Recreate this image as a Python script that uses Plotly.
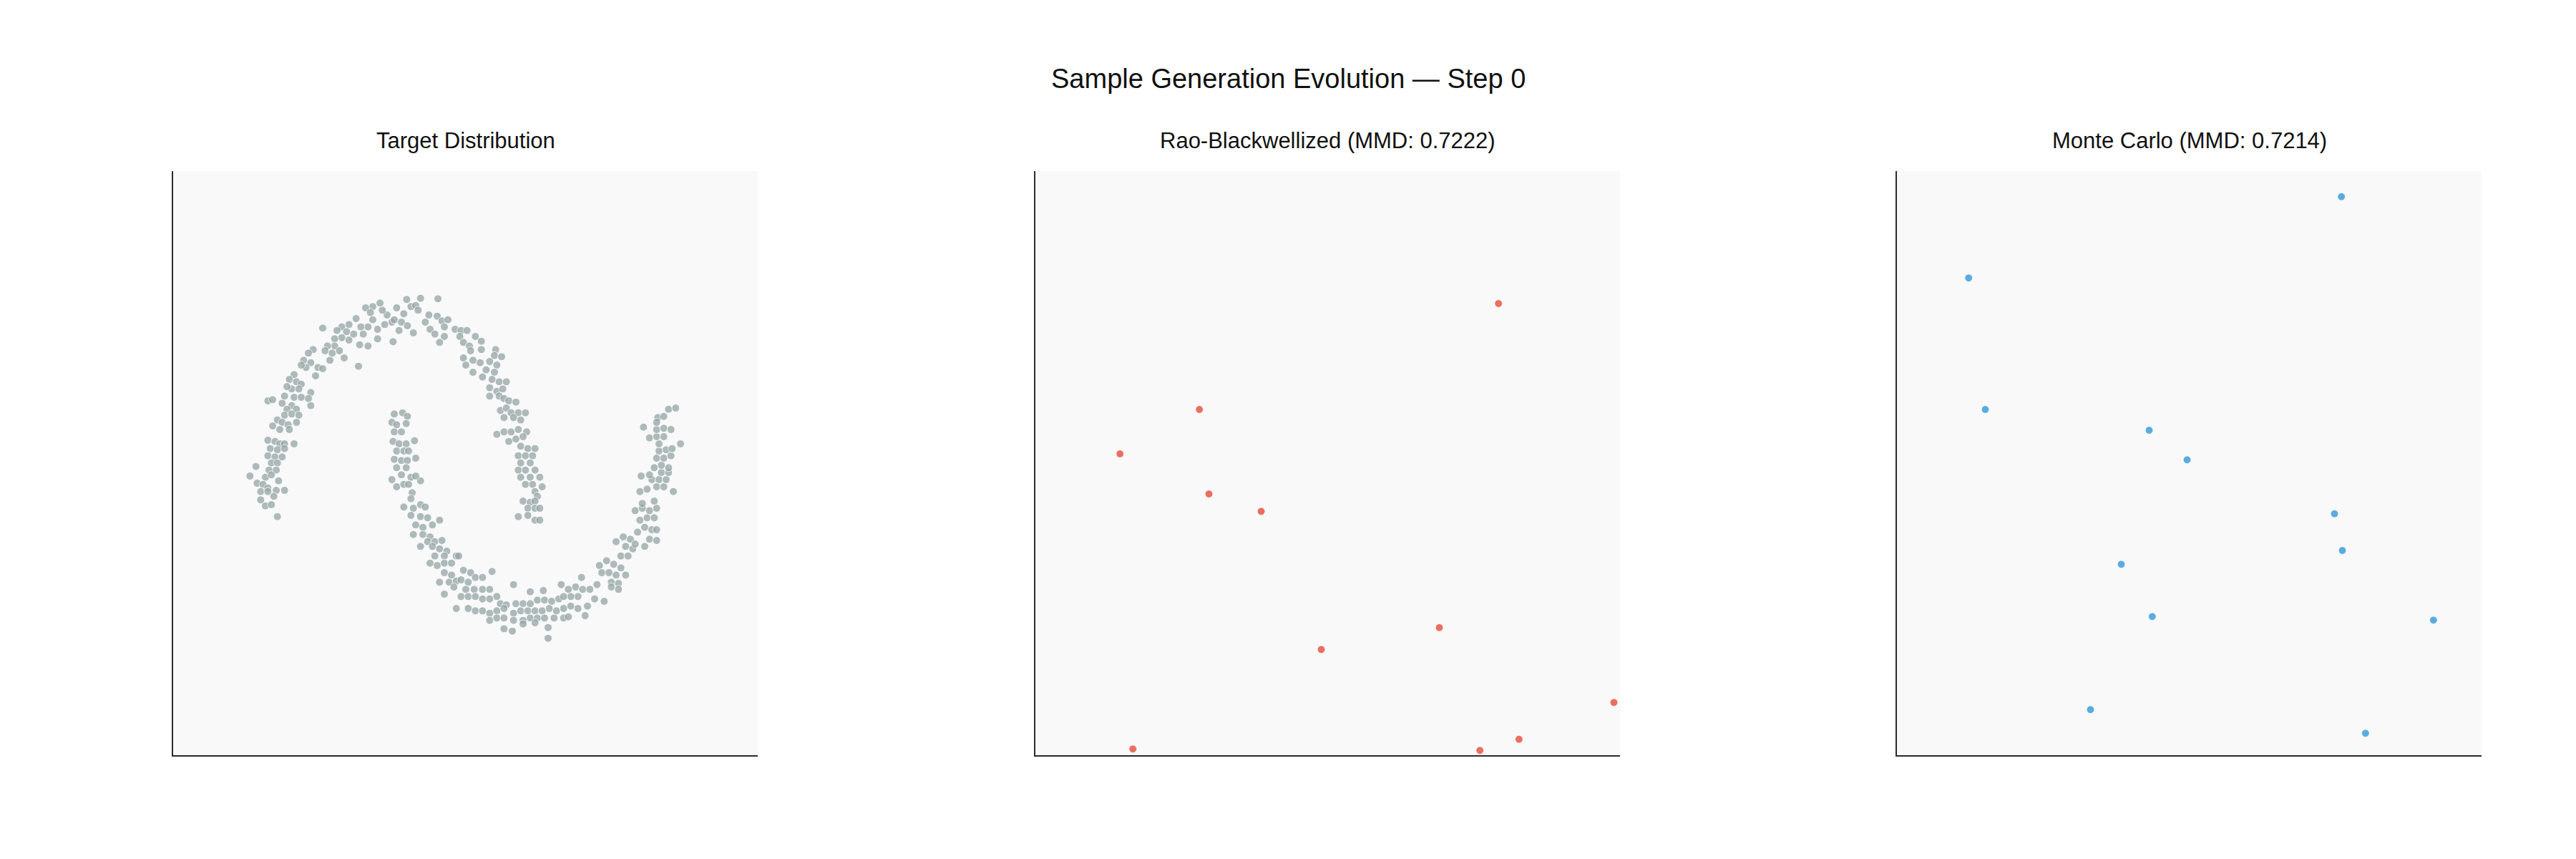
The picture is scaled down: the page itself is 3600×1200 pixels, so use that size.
import plotly.graph_objects as go

# ---------------- data ----------------
MAIN_TITLE = "Sample Generation Evolution — Step 0"
PANEL_TITLES = ["Target Distribution", "Rao-Blackwellized (MMD: 0.7222)", "Monte Carlo (MMD: 0.7214)"]

UPPER_MOON_X = [-117, -190, -248, -260, -290, -230, -210, -200, -270, -245,
                -220, -280, -310, -330, -350, -360, -390, -420, -400, -390,
                -410, -370, -340, -300, -305, -370, -445, -410, -155, -120,
                -100, -90, -150, -170, -130, -90, -110, -75, -45, -460,
                -490, -520, -540, -500, -520, -550, -490, -470, -440, -430,
                -550, -580, -590, -560, -530, -510, -570, -600, -450, -640,
                -660, -680, -650, -620, -630, -600, -670, -690, -720, -740,
                -710, -690, -730, -700, -750, -760, -720, -690, -650, -660,
                -650, -830, -810, -770, -730, -750, -710, -760, -730, -700,
                -790, -770, -745, -810, -710, -780, -740, -830, -800, -780,
                -760, -720, -820, -790, -760, -830, -800, -770, -815, -790,
                -880, -825, -795, -905, -840, -815, -785, -875, -850, -830,
                -860, -830, -795, -760, -805, -860, -840, -815, -790,
                -20, 5, -25, -10, 15, 40, 65, 20, 65, -10,
                30, 60, 0, 30, 125, 120, 150, 100, 130, 85,
                120, 70, 110, 140, 170, 100, 130, 155, 100, 140,
                160, 180, 210, 145, 170, 190, 220, 250, 160, 200,
                230, 130, 160, 190, 220, 255, 180, 210, 240, 230,
                260, 290, 220, 250, 280, 230, 270, 220, 250, 290,
                230, 270, 310, 250, 280, 320, 290, 300, 240, 270,
                290, 260, 290, 310, 220, 260, 290, 310]
UPPER_MOON_Y = [689, 691, 686, 626, 651, 656, 661, 641, 591, 576,
                546, 556, 591, 621, 641, 671, 656, 651, 631, 601,
                571, 561, 581, 601, 509, 521, 496, 491, 621, 616,
                596, 571, 561, 591, 541, 531, 506, 601, 561, 606,
                581, 571, 556, 551, 526, 521, 516, 541, 571, 541,
                491, 491, 471, 461, 471, 441, 431, 566, 406, 476,
                461, 431, 421, 401, 366, 396, 401, 411, 371, 351,
                341, 331, 311, 311, 321, 281, 276, 276, 296, 271,
                241, 261, 266, 251, 241, 226, 226, 201, 206, 201,
                181, 171, 161, 156, 171, 141, 141, 96, 91, 81,
                81, 81, 61, 56, 61, 31, 26, 26, 1, 1,
                -14, -29, -29, -54, -59, -49, -74, -84, -89, -104,
                -119, -119, -114, -114, -139, -154, -179, -174, -224,
                556, 556, 531, 506, 491, 531, 511, 471, 476, 441,
                431, 421, 411, 381, 476, 451, 446, 426, 411, 391,
                381, 361, 351, 341, 341, 316, 301, 311, 281, 281,
                271, 261, 256, 221, 231, 211, 211, 211, 191, 191,
                181, 121, 131, 131, 141, 131, 91, 101, 111, 71,
                61, 61, 31, 31, 31, 1, 1, -29, -29, -29,
                -59, -59, -59, -89, -89, -99, -119, -139, -159, -164,
                -159, -189, -189, -189, -224, -219, -239, -239]

LOWER_MOON_X = [-300, -265, -245, -310, -290, -250, -300, -270, -305, -280,
                -250, -215, -290, -260, -240, -300, -270, -245, -210, -290,
                -250, -310, -270, -230, -190, -290, -260, -240, -210, -225,
                -230, -260, -220, -190, -170, -230, -190, -160, -110, -210,
                -180, -140, -220, -180, -150, -160, -130, -100, -190, -140,
                -110, -80, -130, -90, -40, -150, -120, -90, -60, -90,
                -60, -110, -70, -40, -90, -50, -40,
                -30, -10, 20, -20, 10, 40, 70, 110, 0, 35,
                70, 100, 130, -20, 10, 40, 70, 100, 145, 170,
                200, 210, 240, 270, 270, 325, 300, 330, 360, 390,
                400, 430, 460, 490, 485, 520, 550, 540, 580, 510,
                470, 440, 410, 10, 40, 70, 100, 130, 160, 200,
                230, 260, 290, 320, 350, 380, 410, 440, 470, 100,
                130, 160, 200, 240, 270, 300, 330, 370, 410, 160,
                195, 240, 290, 345, 345, 430, 500,
                560, 590, 620, 650, 570, 600, 630, 670, 610, 640,
                610, 640, 630, 660, 690, 670, 700, 650, 680, 710,
                720, 750, 780, 800, 770, 800, 750, 730, 760, 790,
                710, 740, 770, 800, 740, 790, 730, 760, 800, 830,
                870, 780, 810, 840, 735, 770, 820, 850, 790, 820,
                850, 800, 830, 860, 810, 840, 865, 810, 770, 800,
                830, 900, 745, 800, 830, 860, 805, 830, 850, 880,
                800]
LOWER_MOON_Y = [206, 211, 196, 171, 161, 166, 131, 131, 91, 81,
                81, 94, 51, 51, 51, 16, 11, 11, 21, -19,
                -19, -69, -49, -59, -74, -99, -89, -89, -54, -124,
                -149, -184, -189, -174, -184, -219, -224, -229, -239, -259,
                -269, -259, -299, -299, -309, -329, -329, -324, -349, -349,
                -359, -369, -389, -389, -389, -419, -429, -419, -419, -459,
                -469, -499, -499, -494, -549, -519, -609,
                -389, -449, -459, -489, -499, -479, -479, -454, -529, -529,
                -529, -529, -559, -559, -559, -559, -569, -569, -589, -594,
                -509, -589, -589, -539, -589, -534, -574, -574, -579, -569,
                -509, -529, -519, -529, -479, -529, -509, -569, -579, -599,
                -559, -559, -559, -609, -619, -619, -629, -619, -609, -629,
                -619, -619, -619, -619, -609, -619, -609, -599, -609, -659,
                -649, -649, -659, -659, -649, -649, -649, -649, -649, -694,
                -704, -674, -669, -689, -734, -644, -639,
                -429, -409, -424, -439, -459, -459, -469, -469, -499, -504,
                -519, -529, -329, -309, -319, -349, -359, -389, -389, -339,
                -289, -269, -279, -279, -319, -324, -349, -239, -229, -229,
                -199, -189, -199, -189, -169, -159, -119, -109, -99, -99,
                -119, -69, -69, -69, -54, -49, -39, -39, -19, -9,
                -19, 21, 21, 31, 51, 56, 61, 81, 106, 111,
                111, 81, 151, 141, 146, 141, 191, 196, 226, 231,
                171]

RB_X = [716, -538, -871, -498, -279, 468, -27, 1200, 802, -817, 638]
RB_Y = [669, 225, 39, -129, -202, -689, -781, -1003, -1157, -1198, -1204]

MC_X = [638, -925, -855, -168, -9, 609, 642, -285, -155, 1024, -414, 739]
MC_Y = [1117, 776, 225, 138, 14, -212, -366, -424, -643, -658, -1033, -1132]

# ---------------- figure ----------------
W, H = 3600, 1200
OFF = 8  # page body margin offset
FONT = "Liberation Sans, Arial, Helvetica, sans-serif"
X_DOMAINS = [((242 - OFF) / W, (1059 - OFF) / W),
             ((1447 - OFF) / W, (2264 - OFF) / W),
             ((2651 - OFF) / W, (3468 - OFF) / W)]
Y_DOMAIN = (1 - (1055 - OFF) / H, 1 - (239 - OFF) / H)
X_RANGES = [(-1227, 1224), (-1225.5, 1225.5), (-1225.5, 1225.5)]
Y_RANGE = (-1224, 1224)

fig = go.Figure()

fig.add_trace(go.Scatter(
    x=UPPER_MOON_X + LOWER_MOON_X, y=UPPER_MOON_Y + LOWER_MOON_Y,
    mode="markers", xaxis="x", yaxis="y", showlegend=False,
    marker=dict(size=11, color="#95a5a6", opacity=0.75,
                line=dict(color="white", width=1))))

fig.add_trace(go.Scatter(
    x=RB_X, y=RB_Y, mode="markers", xaxis="x2", yaxis="y2", showlegend=False,
    marker=dict(size=10.5, color="#e74c3c", opacity=0.8,
                line=dict(color="white", width=0.6))))

fig.add_trace(go.Scatter(
    x=MC_X, y=MC_Y, mode="markers", xaxis="x3", yaxis="y3", showlegend=False,
    marker=dict(size=10.5, color="#3498db", opacity=0.8,
                line=dict(color="white", width=0.6))))

axis_common = dict(showgrid=False, zeroline=False, showticklabels=False,
                   ticks="", showline=True, linecolor="#2b2b2b", linewidth=2,
                   mirror=False, fixedrange=True)

layout = dict(
    width=W, height=H,
    margin=dict(l=0, r=0, t=0, b=0),
    paper_bgcolor="white",
    plot_bgcolor="#f9f9f9",
    font=dict(family=FONT, color="#111111"),
    showlegend=False,
)
for i in range(3):
    sx = "" if i == 0 else str(i + 1)
    layout["xaxis" + sx] = dict(axis_common, domain=list(X_DOMAINS[i]),
                                range=list(X_RANGES[i]),
                                anchor="y" + sx)
    layout["yaxis" + sx] = dict(axis_common, domain=list(Y_DOMAIN),
                                range=list(Y_RANGE),
                                anchor="x" + sx)

annotations = [dict(text=MAIN_TITLE, x=0.5 - OFF / W, y=1 - (110 - OFF) / H,
                    xref="paper", yref="paper",
                    xanchor="center", yanchor="middle", showarrow=False,
                    font=dict(family=FONT, size=38, color="#111111"))]
for i, t in enumerate(PANEL_TITLES):
    annotations.append(dict(text=t, x=(X_DOMAINS[i][0] + X_DOMAINS[i][1]) / 2,
                            y=1 - (197 - OFF) / H, xref="paper", yref="paper",
                            xanchor="center", yanchor="middle", showarrow=False,
                            font=dict(family=FONT, size=31, color="#111111")))
layout["annotations"] = annotations

fig.update_layout(**layout)
fig.write_html("out.html")
